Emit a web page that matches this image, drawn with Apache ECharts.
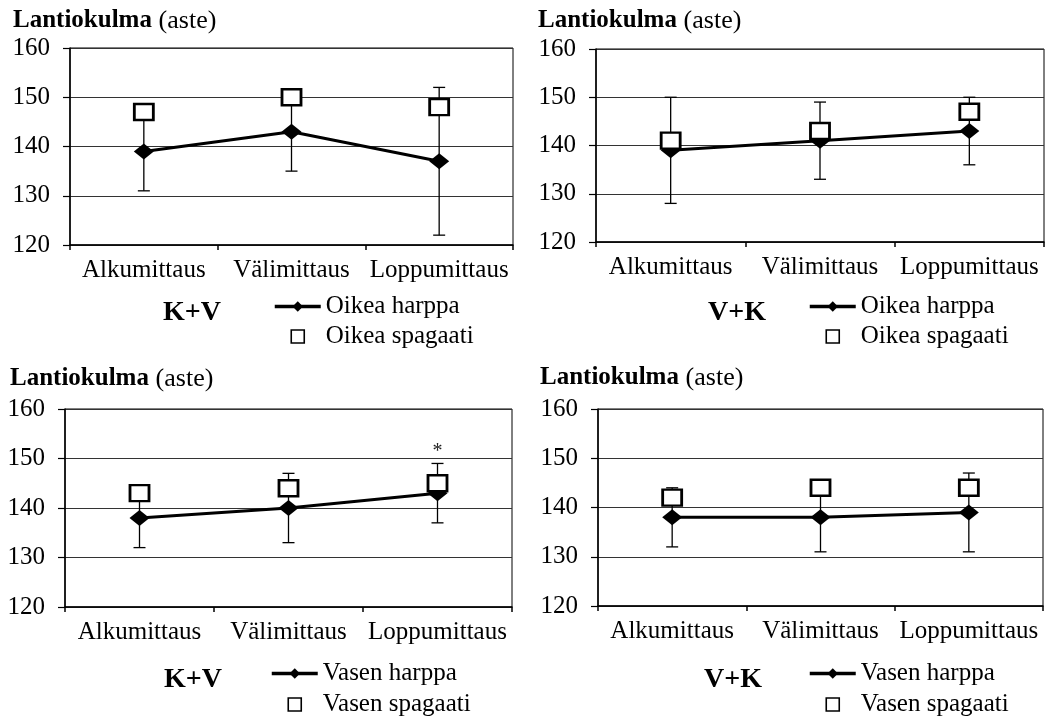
<!DOCTYPE html>
<html>
<head>
<meta charset="utf-8">
<script src="https://cdn.jsdelivr.net/npm/echarts@6/dist/echarts.min.js"></script>
<style>
  html, body { margin: 0; padding: 0; background: #fff; }
  #chart { width: 1053px; height: 716px; }
</style>
</head>
<body>
<div id="chart"></div>
<script>
// Lantiokulma (aste): mean hip angle per measurement, with SD whiskers on the harppa series
const categories = ['Alkumittaus', 'Välimittaus', 'Loppumittaus'];
const yTicks = [120, 130, 140, 150, 160];

// Oikea, K+V
const harppaP1 = [139, 143, 137];
const sdP1 = [8, 8, 15];
const spagaatiP1 = [147, 150, 148];
// Oikea, V+K
const harppaP2 = [139, 141, 143];
const sdP2 = [11, 8, 7];
const spagaatiP2 = [141, 143, 147];
// Vasen, K+V
const harppaP3 = [138, 140, 143];
const sdP3 = [6, 7, 6];
const spagaatiP3 = [143, 144, 145];
// Vasen, V+K
const harppaP4 = [138, 138, 139];
const sdP4 = [6, 7, 8];
const spagaatiP4 = [142, 144, 144];

// significance marks above the whiskers
const sigP3 = ['', '', '*'];

const groupLabels = ['K+V', 'V+K', 'K+V', 'V+K'];
const harppaNames = ['Oikea harppa', 'Oikea harppa', 'Vasen harppa', 'Vasen harppa'];
const spagaatiNames = ['Oikea spagaati', 'Oikea spagaati', 'Vasen spagaati', 'Vasen spagaati'];
const axisTitleBold = 'Lantiokulma';
const axisTitleUnit = '(aste)';

const FONT = "'Liberation Serif', 'Times New Roman', serif";
const SQUARE_ICON = 'path://M0,0H10V10H0Z';

const panels = [
  { harppa: harppaP1, sd: sdP1, spagaati: spagaatiP1, sig: null,
    grid: { left: 70, top: 48, width: 443, height: 197 },
    title: [13, 8], group: [192, 313], legend: [273, 294, 5] },
  { harppa: harppaP2, sd: sdP2, spagaati: spagaatiP2, sig: null,
    grid: { left: 596, top: 49, width: 448, height: 193 },
    title: [538, 8], group: [737, 313], legend: [808, 294, 5] },
  { harppa: harppaP3, sd: sdP3, spagaati: spagaatiP3, sig: sigP3,
    grid: { left: 65, top: 409, width: 447, height: 198 },
    title: [10, 366], group: [193, 680], legend: [270, 661, 6] },
  { harppa: harppaP4, sd: sdP4, spagaati: spagaatiP4, sig: null,
    grid: { left: 598, top: 409, width: 445, height: 197 },
    title: [540, 365], group: [733, 680], legend: [808, 661, 6] }
];

function makeErrorBarRenderer(sig) {
  return function (params, api) {
    const x = api.value(0);
    const lo = api.coord([x, api.value(1)]);
    const hi = api.coord([x, api.value(2)]);
    const half = 6;
    const style = { stroke: '#000', lineWidth: 1.3 };
    const children = [
      { type: 'line', shape: { x1: lo[0], y1: lo[1], x2: hi[0], y2: hi[1] }, style },
      { type: 'line', shape: { x1: lo[0] - half, y1: lo[1], x2: lo[0] + half, y2: lo[1] }, style },
      { type: 'line', shape: { x1: hi[0] - half, y1: hi[1], x2: hi[0] + half, y2: hi[1] }, style }
    ];
    if (sig && sig[params.dataIndex]) {
      children.push({
        type: 'text',
        style: {
          text: sig[params.dataIndex], x: hi[0], y: hi[1] - 2,
          align: 'center', verticalAlign: 'bottom',
          font: '20px ' + FONT, fill: '#222'
        }
      });
    }
    return { type: 'group', children };
  };
}

const grids = [], xAxes = [], yAxes = [], series = [], legends = [], graphics = [];

panels.forEach((p, i) => {
  grids.push(Object.assign({ show: true, borderColor: '#000', borderWidth: 1, backgroundColor: '#fff' }, p.grid));

  xAxes.push({
    gridIndex: i, type: 'category', data: categories, boundaryGap: true,
    axisLine: { lineStyle: { color: '#000', width: 1.5 } },
    axisTick: { show: true, length: 5, lineStyle: { color: '#000', width: 1.5 } },
    axisLabel: { interval: 0, margin: 13, color: '#000', fontFamily: FONT, fontSize: 25 },
    splitLine: { show: false }
  });

  yAxes.push({
    gridIndex: i, type: 'value', min: yTicks[0], max: yTicks[yTicks.length - 1], interval: 10,
    axisLine: { show: true, lineStyle: { color: '#000', width: 1.5 } },
    axisTick: { show: true, length: 7, lineStyle: { color: '#000', width: 1.2 } },
    axisLabel: { margin: 20, color: '#000', fontFamily: FONT, fontSize: 25 },
    splitLine: { show: true, lineStyle: { color: '#333', width: 1.2 } }
  });

  series.push({
    name: 'err' + i, type: 'custom', xAxisIndex: i, yAxisIndex: i, z: 2,
    renderItem: makeErrorBarRenderer(p.sig),
    data: p.harppa.map((v, k) => [k, v - p.sd[k], v + p.sd[k]]),
    silent: true
  });

  series.push({
    name: harppaNames[i], type: 'line', xAxisIndex: i, yAxisIndex: i, z: 3,
    data: p.harppa,
    symbol: 'diamond', symbolSize: [20, 16],
    lineStyle: { color: '#000', width: 3 },
    itemStyle: { color: '#000' },
    animation: false
  });

  series.push({
    name: spagaatiNames[i], type: 'scatter', xAxisIndex: i, yAxisIndex: i, z: 4,
    data: p.spagaati,
    symbol: 'rect', symbolSize: [19, 16],
    itemStyle: { color: '#fff', borderColor: '#000', borderWidth: 2.6, opacity: 1 },
    animation: false
  });

  legends.push({
    data: [
      { name: harppaNames[i], lineStyle: { width: 3.5, color: '#000' } },
      { name: spagaatiNames[i], icon: SQUARE_ICON,
        itemStyle: { color: '#fff', borderColor: '#000', borderWidth: 1.6 } }
    ],
    orient: 'vertical', left: p.legend[0], top: p.legend[1], width: 220, height: 80,
    padding: 0,
    itemWidth: 46, itemHeight: 13, itemGap: p.legend[2],
    textStyle: { color: '#000', fontFamily: FONT, fontSize: 25 },
    selectedMode: false
  });

  graphics.push({
    type: 'text', left: p.title[0], top: p.title[1],
    style: {
      text: '{b|' + axisTitleBold + '}  {n|' + axisTitleUnit + '}',
      rich: {
        b: { fontFamily: FONT, fontSize: 25, fontWeight: 'bold', fill: '#000' },
        n: { fontFamily: FONT, fontSize: 26, fill: '#000' }
      }
    }
  });

  graphics.push({
    type: 'text', x: p.group[0], y: p.group[1],
    style: {
      text: groupLabels[i], align: 'center', verticalAlign: 'middle',
      font: 'bold 28px ' + FONT, fill: '#000'
    }
  });
});

const chart = echarts.init(document.getElementById('chart'));
chart.setOption({
  backgroundColor: '#fff',
  animation: false,
  grid: grids,
  xAxis: xAxes,
  yAxis: yAxes,
  legend: legends,
  series: series,
  graphic: graphics
});
</script>
</body>
</html>
